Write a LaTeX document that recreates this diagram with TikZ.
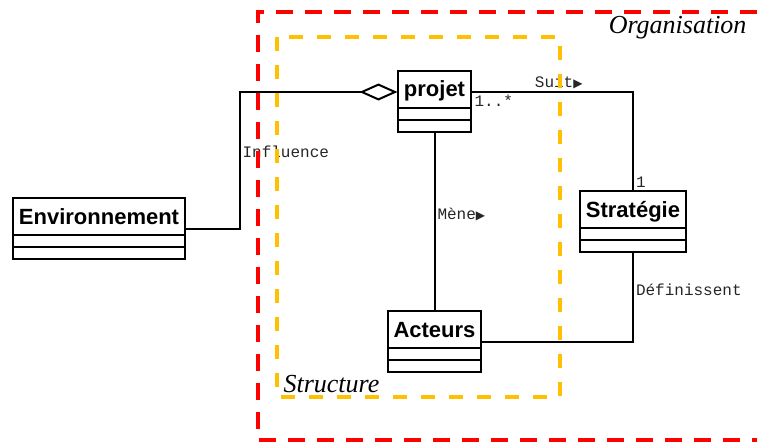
\documentclass[tikz,border=0pt]{standalone}
\usepackage{fontspec}
\setmainfont{Liberation Serif}
\setsansfont{Liberation Sans}
\setmonofont{Liberation Mono}
\newfontfamily\symfont{DejaVu Sans}
\usepackage{tikz}
\usetikzlibrary{shapes,arrows,arrows.meta,positioning}
\definecolor{zonered}{RGB}{255,0,0}
\definecolor{zonegold}{RGB}{255,192,0}
\newcommand{\rtri}{{\symfont\fontsize{12}{12}\selectfont ▶}}

\begin{document}
\begin{tikzpicture}[
    x=1pt, y=-1pt,
    umlclass/.style={rectangle split, rectangle split parts=3, draw, line width=2pt,
        font=\sffamily\bfseries\fontsize{22}{26}\selectfont, fill=white,
        inner xsep=5.5pt, inner ysep=1pt, text height=24pt, text depth=9pt,
        rectangle split empty part height=8pt, rectangle split empty part depth=0pt},
    assoc/.style={line width=2pt},
    role/.style={font=\ttfamily\fontsize{16}{16}\selectfont, text=black!85, inner sep=2pt},
    zone/.style={line width=4pt, dash pattern=on 17pt off 12pt},
    zonelabel/.style={font=\itshape\fontsize{26}{26}\selectfont}
]
    \useasboundingbox (0,0) rectangle (757,444);

    % Classes
    \node[umlclass] (env) at (99,228.5) {Environnement\nodepart{second}\nodepart{third}};
    \node[umlclass] (projet) at (434.5,101) {projet\nodepart{second}\nodepart{third}};
    \node[umlclass] (strat) at (633,221.5) {Stratégie\nodepart{second}\nodepart{third}};
    \node[umlclass] (acteurs) at (434.5,341.5) {Acteurs\nodepart{second}\nodepart{third}};

    % Associations
    \draw[assoc, {Diamond[open, fill=white, length=38pt, width=17pt]}-]
        ([yshift=9pt]projet.west) -| node[role, pos=0.72, right] {Influence}
        ([xshift=54pt]env.east) -- (env.east);
    \draw[assoc] ([yshift=9pt]projet.east) -| node[role, pos=0.27, above] {Suit\rtri}
        node[role, pos=0, below right] {1..*}
        node[role, pos=1, above right] {1} (strat.north);
    \draw[assoc] (projet.south) -- node[role, pos=0.46, right] {Mène\rtri} (acteurs.north);
    \draw[assoc] (strat.south) |- node[role, pos=0.21, right] {Définissent} (acteurs.east);

    % Zones
    \draw[zone, zonered] (757,12) -- (258,12) -- (258,440) -- (757,440);
    \draw[zone, zonegold, dash pattern=on 14pt off 14pt] (277,37) rectangle (560,397);
    \node[zonelabel, anchor=east] (org) at (750,28) {Organisation};
    \node[zonelabel, anchor=west] (struct) at (280,384) {Structure};

\end{tikzpicture}
\end{document}
